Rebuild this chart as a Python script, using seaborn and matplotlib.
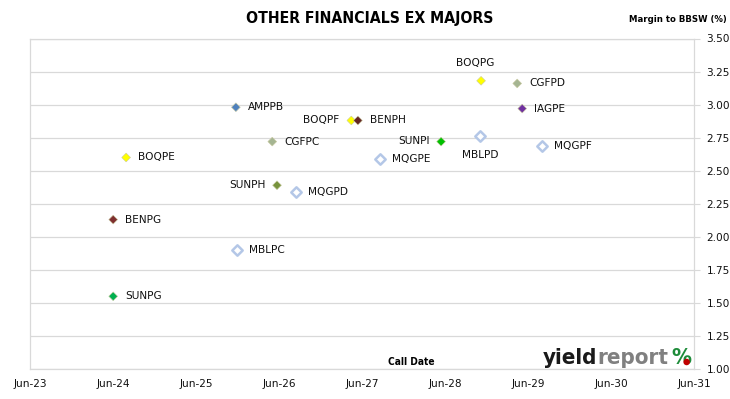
import matplotlib
matplotlib.use("Agg")
import matplotlib.pyplot as plt
from matplotlib.patches import Ellipse
import pandas as pd
import seaborn as sns

# ---- data ----
names = ["AMPPB", "BOQPF", "BENPH", "CGFPC", "SUNPI", "MQGPE", "SUNPH", "MQGPD",
         "BOQPE", "BENPG", "MBLPC", "SUNPG", "BOQPG", "CGFPD", "IAGPE", "MBLPD", "MQGPF"]
call_dates = ["2025-11-23", "2027-04-15", "2027-05-14", "2026-05-02", "2028-05-14",
              "2027-08-19", "2026-05-23", "2026-08-15", "2024-07-28", "2024-06-01",
              "2025-11-28", "2024-06-01", "2028-11-06", "2029-04-14", "2029-05-06",
              "2028-11-01", "2029-08-02"]
margins = [2.98, 2.88, 2.88, 2.72, 2.72, 2.59, 2.39, 2.34, 2.60, 2.13, 1.90, 1.55,
           3.18, 3.16, 2.97, 2.76, 2.69]
x_tick_labels = ["Jun-23", "Jun-24", "Jun-25", "Jun-26", "Jun-27", "Jun-28",
                 "Jun-29", "Jun-30", "Jun-31"]
y_ticks = [1.00, 1.25, 1.50, 1.75, 2.00, 2.25, 2.50, 2.75, 3.00, 3.25, 3.50]

# ---- styles ----
fill_colors = {
    "AMPPB": "#4F81BD", "BOQPF": "#FFFF00", "BENPH": "#632523", "CGFPC": "#A5B592",
    "SUNPI": "#00C000", "SUNPH": "#77933C", "BOQPE": "#FFFF00", "BENPG": "#7F2F2F",
    "SUNPG": "#00B050", "BOQPG": "#FFFF00", "CGFPD": "#A5B592", "IAGPE": "#7030A0",
}
open_names = ["MQGPE", "MQGPD", "MBLPC", "MBLPD", "MQGPF"]
label_pos = {"BOQPF": "left", "SUNPI": "left", "SUNPH": "left",
             "BOQPG": "above", "MBLPD": "below"}

df = pd.DataFrame({"name": names, "date": pd.to_datetime(call_dates), "margin": margins})
filled = df[~df["name"].isin(open_names)]
opened = df[df["name"].isin(open_names)]

sns.set_style("white")
plt.rcParams["font.family"] = ["DejaVu Sans"]

fig = plt.figure(figsize=(7.30, 3.99), dpi=100)
ax = fig.add_axes([30 / 730, 30 / 399, 664 / 730, 330.5 / 399])

sns.scatterplot(data=filled, x="date", y="margin", hue="name", palette=fill_colors,
                marker="D", s=20, edgecolor="#C9C9A0", linewidth=0.4, legend=False,
                ax=ax, zorder=3)
sns.scatterplot(data=opened, x="date", y="margin", color="white", marker="D", s=28,
                edgecolor="#B4C7E7", linewidth=1.8, legend=False, ax=ax, zorder=3)

for n, d, m in zip(df["name"], df["date"], df["margin"]):
    pos = label_pos.get(n, "right")
    if pos == "right":
        off, ha, va = (8.5, 0), "left", "center"
    elif pos == "left":
        off, ha, va = (-8.5, 0.5), "right", "center"
    elif pos == "above":
        off, ha, va = (-4, 13), "center", "center"
    else:
        off, ha, va = (0, -13.5), "center", "center"
    ax.annotate(n, (d, m), xytext=off, textcoords="offset points", ha=ha, va=va,
                fontsize=7.6, color="#111111")

ax.set_xlim(pd.Timestamp("2023-06-01"), pd.Timestamp("2031-06-01"))
ax.set_ylim(1.0, 3.5)
x_ticks = pd.to_datetime([f"20{l[-2:]}-06-01" for l in x_tick_labels])
ax.set_xticks(x_ticks)
ax.set_xticklabels(x_tick_labels)
ax.set_yticks(y_ticks)
ax.set_yticklabels([f"{v:.2f}" for v in y_ticks])
ax.yaxis.tick_right()
ax.tick_params(axis="y", which="both", right=True, left=False, length=4, width=0.8,
               color="#D9D9D9", labelsize=7.6, labelcolor="#111111", pad=5)
ax.tick_params(axis="x", bottom=False, labelsize=7.6, labelcolor="#111111", pad=4)
ax.grid(axis="y", color="#D9D9D9", linewidth=0.9)
ax.grid(axis="x", visible=False)
for sp in ax.spines.values():
    sp.set_color("#D9D9D9")
    sp.set_linewidth(0.9)
ax.set_xlabel("")
ax.set_ylabel("")

cond = dict(family=["DejaVu Sans"], fontstretch="condensed")
fig.text(370 / 730, 1 - 18 / 399, "OTHER FINANCIALS EX MAJORS", ha="center", va="center",
         fontsize=11.3, fontweight="bold", color="black", **cond)
fig.text(727 / 730, 1 - 19 / 399, "Margin to BBSW (%)", ha="right", va="center",
         fontsize=6.8, fontweight="bold", color="black", **cond)
fig.text(411 / 730, 1 - 362 / 399, "Call Date", ha="center", va="center",
         fontsize=7.3, fontweight="bold", color="black", **cond)

# logo
t1 = fig.text(543 / 730, 1 - 364 / 399, "yield", ha="left", va="baseline",
              fontsize=16, fontweight="bold", color="#1a1a1a", **cond)
a2 = ax.annotate("report", xy=(1, 0), xycoords=t1, xytext=(0, 0), textcoords="offset points",
                 ha="left", va="bottom", fontsize=16, fontweight="bold", color="#808080",
                 annotation_clip=False, **cond)
a3 = ax.annotate("%", xy=(1, 0), xycoords=a2, xytext=(2.5, 0), textcoords="offset points",
                 ha="left", va="bottom", fontsize=16, fontweight="bold", color="#1E8C3A",
                 annotation_clip=False, **cond)

fig.canvas.draw()
bb = a3.get_window_extent()
W, H = fig.bbox.width, fig.bbox.height
cx = bb.x0 + 0.74 * bb.width
cy = bb.y0 + 0.30 * bb.height
fig.add_artist(Ellipse((cx / W, cy / H), 6.5 / W, 6.5 / H, transform=fig.transFigure,
                       facecolor="#C00000", edgecolor="none", zorder=5))

fig.savefig("out.png", dpi=100)
